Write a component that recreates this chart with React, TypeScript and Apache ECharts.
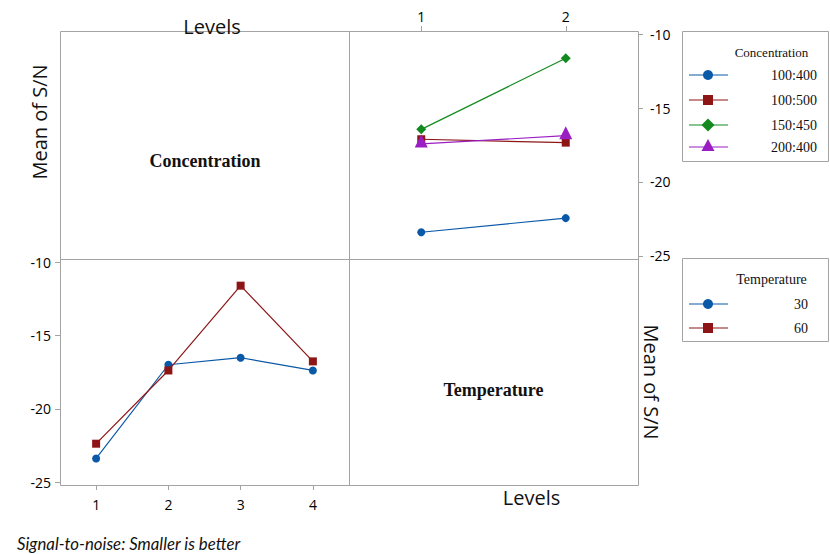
import React, { useEffect, useRef } from "react";
import * as echarts from "echarts";

// ---- data ----
const topLevels = ["1", "2"];
const bottomLevels = ["1", "2", "3", "4"];
const yTicks = [-25, -20, -15, -10];

const concNames = ["100:400", "100:500", "150:450", "200:400"];
const conc100_400 = [-23.41, -22.45];
const conc100_500 = [-17.11, -17.34];
const conc150_450 = [-16.44, -11.63];
const conc200_400 = [-17.43, -16.87];

const tempNames = ["30", "60"];
const temp30 = [-23.39, -16.99, -16.51, -17.38];
const temp60 = [-22.38, -17.38, -11.59, -16.76];

const BLUE = "#0a58a8";
const RED = "#8e1515";
const GREEN = "#138a20";
const PURPLE = "#9a1ec4";
const FRAME = "#a3a3a3";
const SANS = "'Open Sans', sans-serif";
const SERIF = "'Liberation Serif', 'DejaVu Serif', serif";

export default function App() {
  const ref = useRef<HTMLDivElement>(null);

  useEffect(() => {
    if (!ref.current) return;
    const chart = echarts.init(ref.current, null, { renderer: "svg" });

    const concData = [conc100_400, conc100_500, conc150_450, conc200_400];
    const concColors = [BLUE, RED, GREEN, PURPLE];
    const concSymbols = ["circle", "rect", "diamond", "triangle"];
    const concSizes = [8, 8, 10, 13];
    const concOffsets = [[0, 0], [0, 0], [0, 0], [0, -3]];

    const tempData = [temp30, temp60];
    const tempColors = [BLUE, RED];
    const tempSymbols = ["circle", "rect"];

    const series: any[] = [];
    concData.forEach((d, i) => {
      series.push({
        type: "line",
        name: concNames[i],
        xAxisIndex: 0,
        yAxisIndex: 0,
        data: d,
        symbol: concSymbols[i],
        symbolSize: concSizes[i],
        symbolOffset: concOffsets[i],
        showAllSymbol: true,
        lineStyle: { color: concColors[i], width: 1.2 },
        itemStyle: { color: concColors[i] },
        z: 2 + i,
      });
    });
    tempData.forEach((d, i) => {
      series.push({
        type: "line",
        name: tempNames[i],
        xAxisIndex: 1,
        yAxisIndex: 1,
        data: d,
        symbol: tempSymbols[i],
        symbolSize: 8,
        showAllSymbol: true,
        lineStyle: { color: tempColors[i], width: 1.2 },
        itemStyle: { color: tempColors[i] },
        z: 2 + i,
      });
    });

    const tickLabel = { fontSize: 14, color: "#000", fontFamily: SANS };

    // legend graphics
    const legendEls: any[] = [];
    const markerEl = (sym: string, cx: number, cy: number, color: string) => {
      if (sym === "circle") return { type: "circle", shape: { cx, cy, r: 5 }, style: { fill: color } };
      if (sym === "rect") return { type: "rect", shape: { x: cx - 5, y: cy - 5, width: 10, height: 10 }, style: { fill: color } };
      if (sym === "diamond")
        return { type: "polygon", shape: { points: [[cx, cy - 6.5], [cx + 6.5, cy], [cx, cy + 6.5], [cx - 6.5, cy]] }, style: { fill: color } };
      return { type: "polygon", shape: { points: [[cx, cy - 8], [cx + 6.5, cy + 4], [cx - 6.5, cy + 4]] }, style: { fill: color } };
    };
    const concYs = [75, 100, 125, 147];
    legendEls.push({ type: "rect", shape: { x: 682.5, y: 31.5, width: 146, height: 130 }, style: { fill: "#fff", stroke: FRAME, lineWidth: 1 } });
    legendEls.push({ type: "text", x: 771.5, y: 52.5, style: { text: "Concentration", fontSize: 13, fontFamily: SERIF, fill: "#111", textAlign: "center", textVerticalAlign: "middle" } });
    concNames.forEach((n, i) => {
      const y = concYs[i];
      legendEls.push({ type: "line", shape: { x1: 689, y1: y, x2: 728, y2: y }, style: { stroke: concColors[i], lineWidth: 1.2 } });
      legendEls.push(markerEl(concSymbols[i], 708, y, concColors[i]));
      legendEls.push({ type: "text", x: 817, y, style: { text: n, fontSize: 14, fontFamily: SERIF, fill: "#111", textAlign: "right", textVerticalAlign: "middle" } });
    });
    const tempYs = [304, 328];
    legendEls.push({ type: "rect", shape: { x: 682.5, y: 258.5, width: 146, height: 83 }, style: { fill: "#fff", stroke: FRAME, lineWidth: 1 } });
    legendEls.push({ type: "text", x: 771.5, y: 279, style: { text: "Temperature", fontSize: 14, fontFamily: SERIF, fill: "#111", textAlign: "center", textVerticalAlign: "middle" } });
    tempNames.forEach((n, i) => {
      const y = tempYs[i];
      legendEls.push({ type: "line", shape: { x1: 689, y1: y, x2: 728, y2: y }, style: { stroke: tempColors[i], lineWidth: 1.2 } });
      legendEls.push(markerEl(tempSymbols[i], 708, y, tempColors[i]));
      legendEls.push({ type: "text", x: 808, y, style: { text: n, fontSize: 14, fontFamily: SERIF, fill: "#111", textAlign: "right", textVerticalAlign: "middle" } });
    });

    chart.setOption({
      animation: false,
      backgroundColor: "#fff",
      grid: [
        { left: 349, top: 31, width: 289, height: 228 },
        { left: 60, top: 259, width: 289, height: 226 },
      ],
      xAxis: [
        {
          gridIndex: 0,
          type: "category",
          data: topLevels,
          position: "top",
          boundaryGap: true,
          axisLine: { show: false },
          axisTick: { show: true, alignWithLabel: true, length: 5, lineStyle: { color: FRAME } },
          axisLabel: { ...tickLabel, margin: 8 },
          splitLine: { show: false },
        },
        {
          gridIndex: 1,
          type: "category",
          data: bottomLevels,
          position: "bottom",
          boundaryGap: true,
          axisLine: { show: false },
          axisTick: { show: true, alignWithLabel: true, length: 5, lineStyle: { color: FRAME } },
          axisLabel: { ...tickLabel, margin: 12 },
          splitLine: { show: false },
        },
      ],
      yAxis: [
        {
          gridIndex: 0,
          type: "value",
          position: "right",
          min: -25.22,
          max: -9.78,
          axisLine: { show: false },
          axisTick: { show: true, length: 5, customValues: yTicks, lineStyle: { color: FRAME } },
          axisLabel: { ...tickLabel, margin: 12, customValues: yTicks },
          splitLine: { show: false },
        },
        {
          gridIndex: 1,
          type: "value",
          position: "left",
          min: -25.2,
          max: -9.77,
          axisLine: { show: false },
          axisTick: { show: true, length: 5, customValues: yTicks, lineStyle: { color: FRAME } },
          axisLabel: { ...tickLabel, margin: 9, customValues: yTicks },
          splitLine: { show: false },
        },
      ],
      series,
      graphic: [
        { type: "rect", shape: { x: 60.5, y: 31.5, width: 578, height: 454 }, style: { fill: "none", stroke: FRAME, lineWidth: 1 }, z: 1 },
        { type: "line", shape: { x1: 349.5, y1: 31.5, x2: 349.5, y2: 485.5 }, style: { stroke: FRAME, lineWidth: 1 }, z: 1 },
        { type: "line", shape: { x1: 60.5, y1: 259.5, x2: 638.5, y2: 259.5 }, style: { stroke: FRAME, lineWidth: 1 }, z: 1 },
        { type: "text", x: 212, y: 26, style: { text: "Levels", fontSize: 20, fontFamily: SANS, fill: "#111", textAlign: "center", textVerticalAlign: "middle" }, z: 5 },
        { type: "text", x: 531.5, y: 497, style: { text: "Levels", fontSize: 20, fontFamily: SANS, fill: "#111", textAlign: "center", textVerticalAlign: "middle" }, z: 5 },
        { type: "text", x: 39, y: 122, rotation: Math.PI / 2, style: { text: "Mean of S/N", fontSize: 20, fontFamily: SANS, fill: "#111", textAlign: "center", textVerticalAlign: "middle" }, z: 5 },
        { type: "text", x: 651, y: 382, rotation: -Math.PI / 2, style: { text: "Mean of S/N", fontSize: 20, fontFamily: SANS, fill: "#111", textAlign: "center", textVerticalAlign: "middle" }, z: 5 },
        { type: "text", x: 205, y: 161, style: { text: "Concentration", fontSize: 18, fontWeight: "bold", fontFamily: SERIF, fill: "#111", textAlign: "center", textVerticalAlign: "middle" }, z: 5 },
        { type: "text", x: 493.5, y: 390, style: { text: "Temperature", fontSize: 18, fontWeight: "bold", fontFamily: SERIF, fill: "#111", textAlign: "center", textVerticalAlign: "middle" }, z: 5 },
        { type: "text", x: 17, y: 543, style: { text: "Signal-to-noise: Smaller is better", fontSize: 16.8, fontStyle: "italic", fontFamily: "Lato, sans-serif", fill: "#111", textAlign: "left", textVerticalAlign: "middle" }, z: 5 },
        ...legendEls.map((e) => ({ ...e, z: 5 })),
      ],
    });

    return () => chart.dispose();
  }, []);

  return <div ref={ref} style={{ position: "absolute", left: 0, top: 0, width: 830, height: 554 }} />;
}
